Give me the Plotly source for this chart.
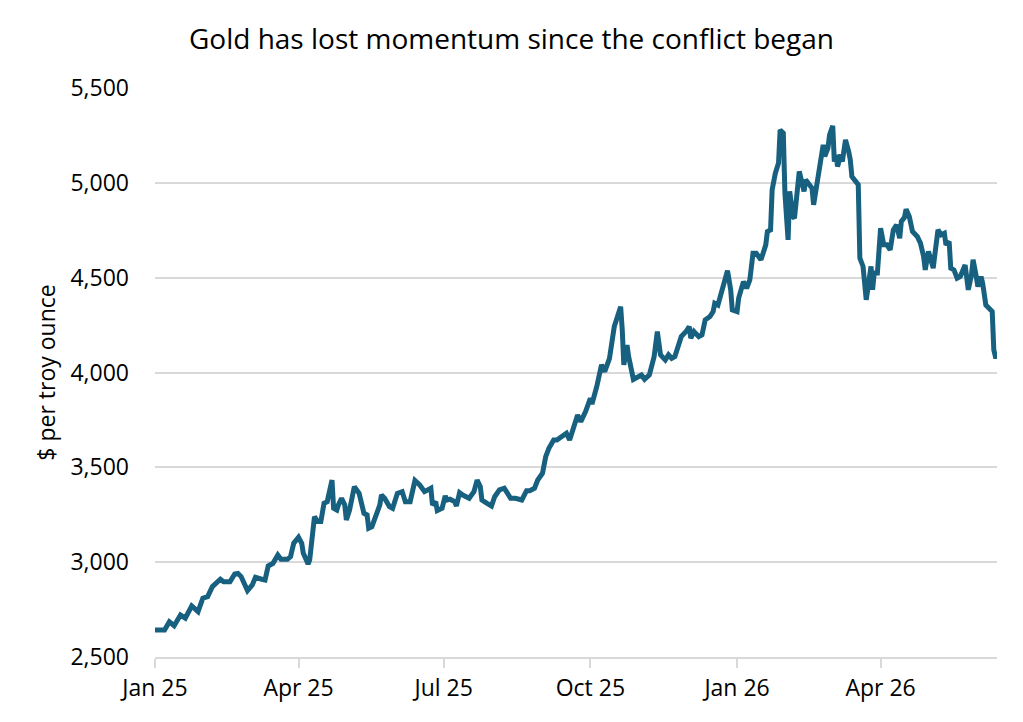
import pandas as pd
import plotly.graph_objects as go

# Days since 2025-01-01 and gold price, $ per troy ounce
day_offsets = [
    0, 3, 6, 9, 12, 16, 19, 23, 27, 30, 33, 36, 39, 41, 43, 47, 50, 52, 54, 58,
    61, 63, 67, 69, 71, 74, 77, 79, 83, 85, 87, 90,
    92, 93, 96, 97, 100, 102, 104, 106, 108, 111, 112, 114, 115, 117, 119, 120,
    122, 125, 128, 131, 133, 134, 136, 139, 141, 142, 144, 147, 149, 152, 155,
    157, 160, 163, 166, 169, 173, 174, 176, 177, 180, 182,
    183, 185, 188, 189, 191, 193, 197, 200, 202, 204, 205, 208, 211, 213, 216,
    219, 221, 223, 226, 228, 230, 233, 235, 238, 240, 243, 245, 247, 250, 252,
    255, 258, 260, 262, 265, 267, 270,
    273, 274, 277, 280, 282, 285, 288, 289, 292, 293, 294, 296, 297, 300, 303,
    305, 307, 310, 313, 314, 315, 317, 320, 322, 324, 326, 329, 330, 333, 335,
    336, 338, 341, 343, 345, 348, 350, 351, 353, 356, 357, 359, 361, 362, 365,
    366,
    369, 371, 373, 375, 377, 380, 383, 384, 386, 387, 389, 391, 392, 394, 395,
    397, 398, 400, 401, 404, 405, 407, 408, 410, 412, 413, 415, 417, 419, 420,
    422, 423, 425, 426, 427, 428, 430, 431, 433, 435, 436, 437, 439, 441, 442,
    444, 446, 447, 449, 450, 451, 453, 455, 457,
    459, 461, 463, 465, 467, 468, 470, 471, 473, 475, 478, 480, 482, 483, 485,
    486, 488, 489, 491, 493, 495, 496, 498, 499, 501, 503, 505, 508, 510, 512,
    513, 515, 516, 518, 519, 521, 523, 525, 526, 527, 528,
]
gold_price = [
    2642, 2639, 2642, 2686, 2665, 2721, 2705, 2769, 2739, 2810, 2818, 2871, 2892,
    2910, 2897, 2897, 2938, 2941, 2924, 2850, 2880, 2920, 2910, 2906, 2980, 2994,
    3038, 3015, 3015, 3029, 3100, 3131,
    3100, 3047, 2990, 3012, 3240, 3214, 3214, 3311, 3319, 3433, 3284, 3275, 3302,
    3337, 3302, 3222, 3275, 3398, 3363, 3258, 3249, 3179, 3187, 3258, 3302, 3354,
    3337, 3293, 3284, 3363, 3372, 3319, 3319, 3430, 3407, 3372, 3390, 3302, 3319,
    3272, 3284, 3349,
    3328, 3332, 3319, 3296, 3366, 3354, 3337, 3372, 3433, 3398, 3328, 3311, 3296,
    3345, 3381, 3390, 3363, 3337, 3337, 3332, 3328, 3377, 3377, 3390, 3433, 3469,
    3556, 3600, 3644, 3644, 3662, 3680, 3644, 3697, 3776, 3741, 3794,
    3864, 3834, 3925, 4040, 4005, 4075, 4242, 4268, 4347, 4224, 4040, 4145, 4084,
    3964, 3978, 3987, 3964, 3987, 4084, 4172, 4216, 4093, 4066, 4093, 4075, 4084,
    4154, 4189, 4216, 4242, 4181, 4216, 4189, 4198, 4277, 4295, 4321, 4365, 4356,
    4444, 4467, 4537, 4436, 4330, 4321, 4392,
    4479, 4444, 4488, 4629, 4629, 4594, 4673, 4743, 4752, 4963, 5051, 5104, 5279,
    5262, 4946, 4699, 4955, 4822, 4813, 5060, 5025, 4955, 5016, 4990, 4972, 4884,
    5000, 5086, 5200, 5139, 5183, 5253, 5300, 5112, 5148, 5086, 5148, 5112, 5227,
    5165, 5121, 5033, 5016, 4990, 4603, 4559, 4383, 4436, 4559, 4436, 4524, 4524,
    4761, 4673,
    4673, 4647, 4752, 4778, 4708, 4796, 4818, 4861, 4822, 4743, 4717, 4682, 4611,
    4541, 4638, 4611, 4550, 4620, 4752, 4726, 4734, 4673, 4690, 4550, 4541, 4497,
    4506, 4567, 4436, 4515, 4594, 4506, 4453, 4506, 4471, 4356, 4339, 4321, 4119,
    4084, 4084,
]

tick_dates = ["2025-01-01", "2025-04-01", "2025-07-01", "2025-10-01", "2026-01-01", "2026-04-01"]
tick_labels = ["Jan 25", "Apr 25", "Jul 25", "Oct 25", "Jan 26", "Apr 26"]
y_ticks = [2500, 3000, 3500, 4000, 4500, 5000, 5500]
y_labels = ["2,500", "3,000", "3,500", "4,000", "4,500", "5,000", "5,500"]

dates = pd.Timestamp("2025-01-01") + pd.to_timedelta(day_offsets, unit="D")

FONT = "Open Sans"
fig = go.Figure()
fig.add_trace(go.Scatter(
    x=dates, y=gold_price, mode="lines",
    line=dict(color="#17607f", width=5, shape="linear"),
    hoverinfo="x+y", showlegend=False,
))

fig.update_layout(
    width=1023, height=722,
    margin=dict(l=155, r=26, t=88, b=65),
    paper_bgcolor="white", plot_bgcolor="white",
    font=dict(family=FONT, color="#000000", size=23),
    title=dict(text="Gold has lost momentum since the conflict began",
               x=0.5, xanchor="center", y=1 - 39 / 722, yanchor="middle",
               font=dict(family=FONT, size=28, color="#000000")),
    xaxis=dict(
        type="date",
        range=[dates[0], dates[-1]],
        tickvals=tick_dates, ticktext=tick_labels,
        showgrid=False, showline=True, linecolor="#d9d9d9", linewidth=2,
        ticks="outside", ticklen=9, tickcolor="#d9d9d9", tickwidth=1.5,
        tickfont=dict(family=FONT, size=23, color="#000000"),
        zeroline=False,
    ),
    yaxis=dict(
        range=[2500, 5500],
        tickvals=y_ticks, ticktext=y_labels,
        showgrid=True, gridcolor="#d9d9d9", gridwidth=1.5,
        showline=False, zeroline=False,
        ticks="", ticklabelstandoff=25,
        tickfont=dict(family=FONT, size=23, color="#000000"),
        title=dict(text="$ per troy ounce", standoff=8,
                   font=dict(family=FONT, size=23, color="#000000")),
    ),
)

fig.write_html("out.html")
